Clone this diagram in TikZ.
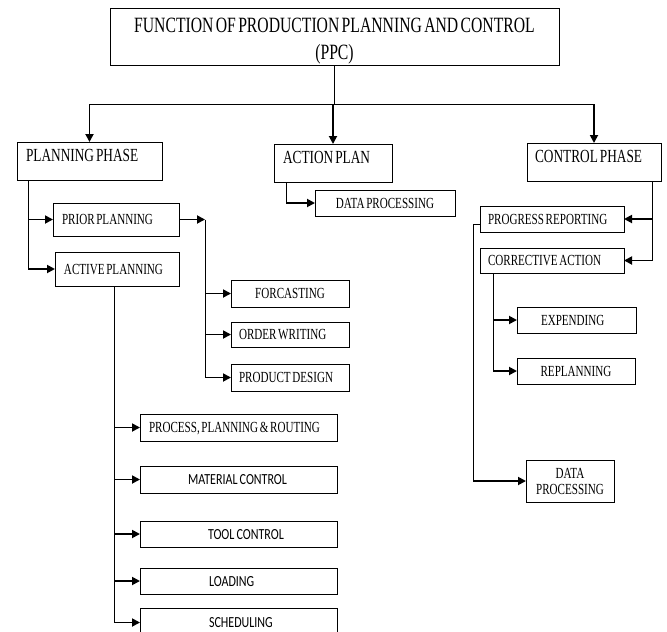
\documentclass[tikz,border=0pt]{standalone}
\usepackage{fontspec}
\usetikzlibrary{arrows.meta}
\newfontfamily\ppcserif{Liberation Serif}[FakeStretch=0.72,WordSpace=0.6]
\newfontfamily\ppcsans{Carlito}[FakeStretch=0.78,WordSpace=0.8]
\tikzset{
  box/.style={draw, line width=1pt, anchor=north west, outer sep=0pt, inner sep=0pt,
    font=\ppcserif\fontsize{15.4}{16}\selectfont, text height=10pt, text depth=0pt, align=center},
  lbox/.style 2 args={text width=#1, align=flush left, execute at begin node={\hspace*{#2}}},
  head/.style={box, font=\ppcserif\fontsize{18.5}{20}\selectfont, text height=19pt, text depth=19pt},
  sansbox/.style={box, font=\ppcsans\fontsize{15.4}{16}\selectfont},
  line/.style={line width=1pt},
  arr/.style={line width=1.8pt, -{Triangle[length=8pt,width=8pt]}},
}
\begin{document}
\begin{tikzpicture}[x=1pt,y=-1pt]
    \path[use as bounding box, fill=white] (0,0) rectangle (667,632);

    % Title
    \node[box, font=\ppcserif\fontsize{21.8}{27}\selectfont, text height=46pt,
      minimum width=449pt, minimum height=57pt] (ppc) at (110,8)
      {FUNCTION OF PRODUCTION PLANNING AND CONTROL\\(PPC)};

    % Phases
    \node[head, lbox={145pt}{9pt}] (plan) at (17,142) {PLANNING PHASE};
    \node[head, lbox={118pt}{9pt}] (act) at (274,144) {ACTION PLAN};
    \node[head, lbox={134pt}{8pt}] (ctrl) at (527,143) {CONTROL PHASE};

    % Planning phase
    \node[box, lbox={126pt}{9pt}, minimum height=33pt] (prior) at (53,203) {PRIOR PLANNING};
    \node[box, lbox={124pt}{9pt}, minimum height=34pt] (active) at (55,252) {ACTIVE PLANNING};
    \node[box, minimum width=118pt, minimum height=27pt] (forc) at (231,280) {FORCASTING};
    \node[box, lbox={118pt}{8pt}, minimum height=25pt] (order) at (231,322) {ORDER WRITING};
    \node[box, lbox={118pt}{8pt}, minimum height=27pt] (prod) at (231,364) {PRODUCT DESIGN};
    \node[box, lbox={197pt}{9pt}, minimum height=27pt] (proc) at (140,414) {PROCESS, PLANNING \& ROUTING};
    \node[sansbox, lbox={197pt}{48pt}, minimum height=27pt] (mat) at (140,466) {MATERIAL CONTROL};
    \node[sansbox, lbox={197pt}{68pt}, minimum height=26pt] (tool) at (140,521) {TOOL CONTROL};
    \node[sansbox, lbox={197pt}{69pt}, minimum height=26pt] (load) at (140,568) {LOADING};
    \node[sansbox, lbox={197pt}{69pt}, minimum height=29pt] (sched) at (140,608) {SCHEDULING};

    % Action plan
    \node[box, minimum width=140pt, minimum height=26pt] (dp1) at (315,190) {DATA PROCESSING};

    % Control phase
    \node[box, lbox={144pt}{8pt}, minimum height=26pt] (prog) at (480,206) {PROGRESS REPORTING};
    \node[box, lbox={144pt}{8pt}, minimum height=25pt] (corr) at (480,248) {CORRECTIVE ACTION};
    \node[box, lbox={119pt}{24pt}, minimum height=26pt] (exp) at (517,307) {EXPENDING};
    \node[box, minimum width=118pt, minimum height=26pt] (repl) at (517,358) {REPLANNING};
    \node[box, minimum width=88pt, minimum height=42pt, text height=26pt] (dp2) at (526,460) {DATA\\PROCESSING};

    % Title to phases
    \draw[line] (ppc.south) -- ++(0,39) coordinate (bus);
    \draw[line] (plan.north |- bus) -- (ctrl.north |- bus);
    \foreach \n in {plan,act,ctrl}
        \draw[arr] (\n.north |- bus) -- (\n.north);

    % Planning links
    \coordinate (ps) at ([xshift=11pt]plan.south west);
    \draw[line] (ps) -- (ps |- active.west);
    \foreach \n in {prior,active}
        \draw[arr] (ps |- \n.west) -- (\n.west);
    \draw[arr] (prior.east) -- ++(26,0) coordinate (pj);
    \draw[line] (pj) -- (pj |- prod.west);
    \foreach \n in {forc,order,prod}
        \draw[arr] (pj |- \n.west) -- (\n.west);
    \coordinate (as) at ([xshift=-3pt]active.south);
    \draw[line] (as) -- (as |- sched.west);
    \foreach \n in {proc,mat,tool,load,sched}
        \draw[arr] (as |- \n.west) -- (\n.west);

    % Action plan links
    \coordinate (ap) at ([xshift=12pt]act.south west);
    \draw[line] (ap) -- (ap |- dp1.west);
    \draw[arr] (ap |- dp1.west) -- (dp1.west);

    % Control links
    \coordinate (cs) at ([xshift=-9pt]ctrl.south east);
    \draw[line] (cs) -- (cs |- corr.east);
    \foreach \n in {prog,corr}
        \draw[arr] (cs |- \n.east) -- (\n.east);
    \coordinate (cx) at ([xshift=-7pt]prog.west);
    \draw[line] ([yshift=-5pt]prog.west) -| (cx |- dp2.west);
    \draw[arr] (cx |- dp2.west) -- (dp2.west);
    \coordinate (cc) at ([xshift=13pt]corr.south west);
    \draw[line] (cc) -- (cc |- repl.west);
    \foreach \n in {exp,repl}
        \draw[arr] (cc |- \n.west) -- (\n.west);
\end{tikzpicture}
\end{document}
